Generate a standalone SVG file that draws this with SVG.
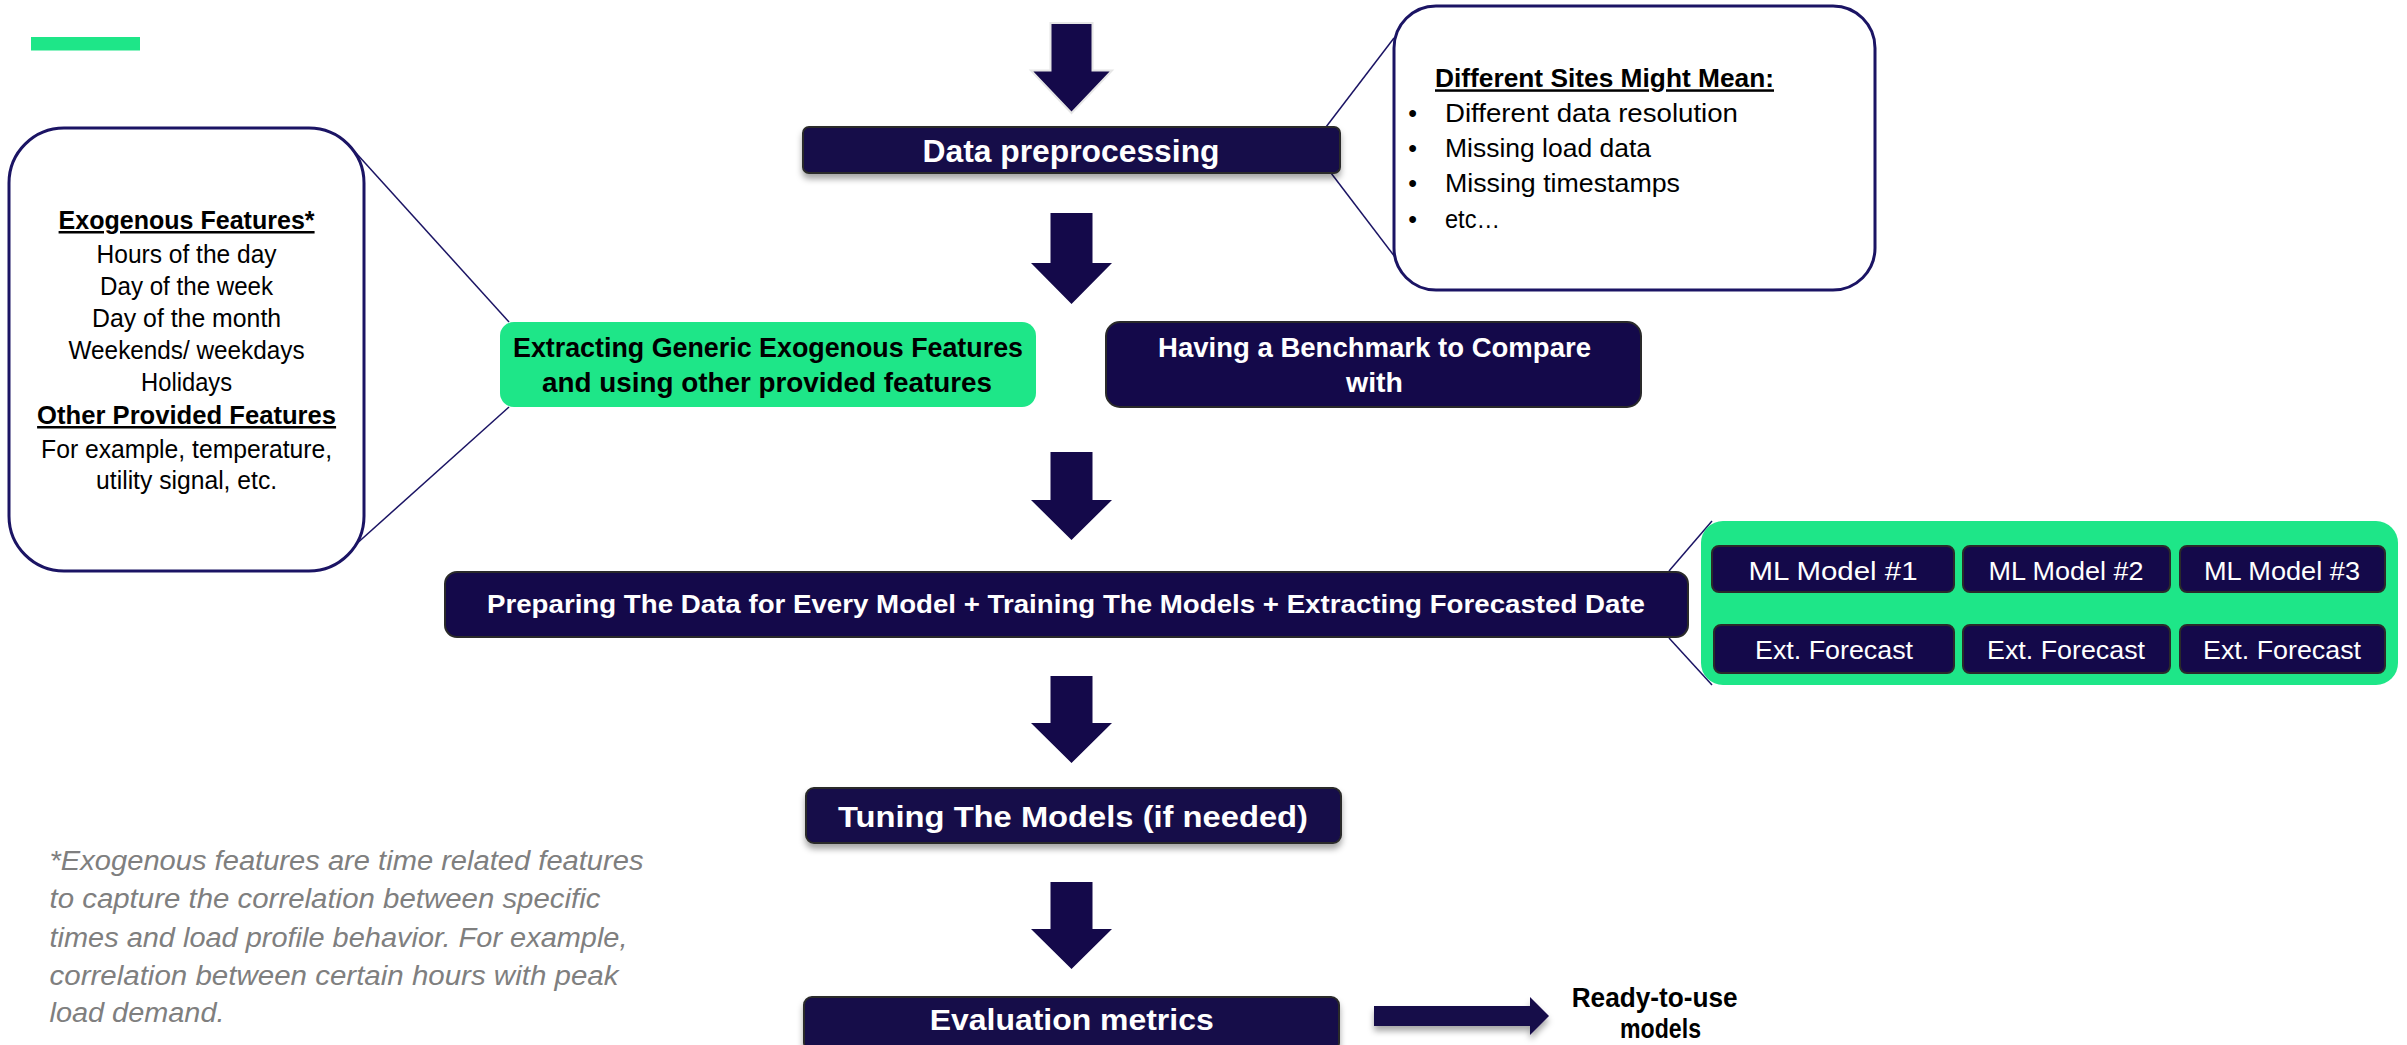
<svg xmlns="http://www.w3.org/2000/svg" width="2407" height="1045" viewBox="0 0 2407 1045">
<defs>
<filter id="sh" x="-10%" y="-30%" width="120%" height="180%">
<feDropShadow dx="0" dy="5" stdDeviation="3" flood-color="#000" flood-opacity="0.35"/>
</filter>
<marker id="tri" viewBox="0 0 14 15" refX="7" refY="15" markerWidth="14" markerHeight="15" markerUnits="userSpaceOnUse" orient="auto-start-reverse">
<path d="M0,0 L14,0 L7,15 Z" fill="#14094a"/>
</marker>
</defs>
<style>
text{font-family:"Liberation Sans",Arial,sans-serif}
.nv{fill:#14094a;stroke:#2a2a2a;stroke-width:2}
.gr{fill:#1ee688}
.ob{fill:#fff;stroke:#1b1464;stroke-width:3}
.wb{fill:#fff;font-weight:bold;text-anchor:middle}
.wr{fill:#fff;text-anchor:middle;font-size:25px}
.kb{fill:#000;font-weight:bold;text-anchor:middle}
.kr{fill:#000;font-size:25px}
.ul{text-decoration:underline}
.ft{fill:#7f7f7f;font-style:italic;font-size:27px}
.bk{fill:#14094a}
.cl{stroke:#1b1464;stroke-width:1.5;fill:none}
.sl{stroke:#14094a;stroke-width:2;fill:none}
</style>

<rect id="accent-bar" x="31" y="37" width="109" height="13.5" class="gr"/>

<g id="connectors">
<polygon points="1050.5,23 1092.5,23 1092.5,70.5 1112,70.5 1071.5,113 1031,70.5 1050.5,70.5" class="bk" stroke="#e6e6e6" stroke-width="2"/>
<polygon points="1050.5,213 1092.5,213 1092.5,263 1112,263 1071.5,304 1031,263 1050.5,263" class="bk"/>
<polygon points="1050.5,452 1092.5,452 1092.5,500 1112,500 1071.5,540 1031,500 1050.5,500" class="bk"/>
<polygon points="1050.5,676 1092.5,676 1092.5,723 1112,723 1071.5,763 1031,723 1050.5,723" class="bk"/>
<polygon points="1050.5,882 1092.5,882 1092.5,929 1112,929 1071.5,969 1031,929 1050.5,929" class="bk"/>
<polygon points="1374,1006 1530,1006 1530,997 1549,1016 1530,1035 1530,1026 1374,1026" class="bk" filter="url(#sh)"/>
<line x1="356" y1="153" x2="509" y2="322" class="cl"/>
<line x1="509" y1="407" x2="334" y2="564" class="cl"/>
<line x1="1326" y1="127" x2="1394" y2="38" class="cl"/>
<line x1="1331" y1="173" x2="1395" y2="257" class="cl"/>
<line x1="1669" y1="571" x2="1712" y2="521" class="cl"/>
<line x1="1669" y1="638" x2="1712" y2="685" class="cl"/>
<line x1="1833" y1="592" x2="1833" y2="625" class="sl" marker-end="url(#tri)"/>
<line x1="2066.5" y1="592" x2="2066.5" y2="625" class="sl" marker-end="url(#tri)"/>
<line x1="2282.5" y1="592" x2="2282.5" y2="625" class="sl" marker-end="url(#tri)"/>
</g>

<g id="exogenous-box">
<rect x="9" y="128" width="355" height="443" rx="55" ry="55" class="ob"/>
<text x="186.6" y="229" class="kb ul" font-size="25" textLength="256" lengthAdjust="spacingAndGlyphs">Exogenous Features*</text>
<text x="186.6" y="262.7" class="kr" text-anchor="middle" textLength="180" lengthAdjust="spacingAndGlyphs">Hours of the day</text>
<text x="186.6" y="294.9" class="kr" text-anchor="middle" textLength="173" lengthAdjust="spacingAndGlyphs">Day of the week</text>
<text x="186.6" y="327" class="kr" text-anchor="middle" textLength="189" lengthAdjust="spacingAndGlyphs">Day of the month</text>
<text x="186.6" y="358.9" class="kr" text-anchor="middle" textLength="236" lengthAdjust="spacingAndGlyphs">Weekends/ weekdays</text>
<text x="186.6" y="391" class="kr" text-anchor="middle" textLength="91" lengthAdjust="spacingAndGlyphs">Holidays</text>
<text x="186.6" y="424" class="kb ul" font-size="25" textLength="299" lengthAdjust="spacingAndGlyphs">Other Provided Features</text>
<text x="186.6" y="457.6" class="kr" text-anchor="middle" textLength="291" lengthAdjust="spacingAndGlyphs">For example, temperature,</text>
<text x="186.6" y="489" class="kr" text-anchor="middle" textLength="181" lengthAdjust="spacingAndGlyphs">utility signal, etc.</text>
</g>

<g id="sites-box">
<rect x="1394" y="6" width="481" height="284" rx="42" ry="42" class="ob"/>
<text x="1435" y="87.3" class="ul" font-size="25" font-weight="bold" fill="#000" textLength="339" lengthAdjust="spacingAndGlyphs">Different Sites Might Mean:</text>
<text x="1412.7" y="121.7" class="kr" text-anchor="middle">•</text>
<text x="1412.7" y="156.7" class="kr" text-anchor="middle">•</text>
<text x="1412.7" y="191.7" class="kr" text-anchor="middle">•</text>
<text x="1412.7" y="227.7" class="kr" text-anchor="middle">•</text>
<text x="1445" y="121.7" class="kr" font-size="26" textLength="293" lengthAdjust="spacingAndGlyphs">Different data resolution</text>
<text x="1445" y="156.7" class="kr" font-size="26" textLength="206" lengthAdjust="spacingAndGlyphs">Missing load data</text>
<text x="1445" y="191.7" class="kr" font-size="26" textLength="235" lengthAdjust="spacingAndGlyphs">Missing timestamps</text>
<text x="1445" y="227.7" class="kr" font-size="26" textLength="55" lengthAdjust="spacingAndGlyphs">etc…</text>
</g>

<g id="data-preprocessing">
<rect x="803" y="127" width="537" height="46" rx="6" class="nv" filter="url(#sh)"/>
<text x="1071" y="162" class="wb" font-size="31" textLength="297" lengthAdjust="spacingAndGlyphs">Data preprocessing</text>
</g>

<g id="extracting-features">
<rect x="500" y="322" width="536" height="85" rx="14" class="gr"/>
<text x="768" y="357" class="kb" font-size="27" textLength="510" lengthAdjust="spacingAndGlyphs">Extracting Generic Exogenous Features</text>
<text x="767" y="392" class="kb" font-size="27" textLength="450" lengthAdjust="spacingAndGlyphs">and using other provided features</text>
</g>

<g id="benchmark">
<rect x="1106" y="322" width="535" height="85" rx="14" class="nv"/>
<text x="1374.5" y="357" class="wb" font-size="27" textLength="433" lengthAdjust="spacingAndGlyphs">Having a Benchmark to Compare</text>
<text x="1374.5" y="392" class="wb" font-size="27" textLength="57" lengthAdjust="spacingAndGlyphs">with</text>
</g>

<g id="preparing">
<rect x="445" y="572" width="1243" height="65" rx="12" class="nv"/>
<text x="1066" y="613" class="wb" font-size="26" textLength="1158" lengthAdjust="spacingAndGlyphs">Preparing The Data for Every Model + Training The Models + Extracting Forecasted Date</text>
</g>

<g id="models-panel">
<rect x="1701" y="521" width="697" height="164" rx="22" class="gr"/>
</g>
<g id="ml-model-1">
<rect x="1712" y="546" width="242" height="46" rx="7" class="nv"/>
<text x="1833" y="580" class="wr" textLength="169" lengthAdjust="spacingAndGlyphs">ML Model #1</text>
</g>
<g id="ml-model-2">
<rect x="1963" y="546" width="207" height="46" rx="7" class="nv"/>
<text x="2066" y="580" class="wr" textLength="155" lengthAdjust="spacingAndGlyphs">ML Model #2</text>
</g>
<g id="ml-model-3">
<rect x="2180" y="546" width="205" height="46" rx="7" class="nv"/>
<text x="2282" y="580" class="wr" textLength="156" lengthAdjust="spacingAndGlyphs">ML Model #3</text>
</g>
<g id="forecast-1">
<rect x="1714" y="625" width="240" height="48" rx="7" class="nv"/>
<text x="1834" y="659" class="wr" textLength="158" lengthAdjust="spacingAndGlyphs">Ext. Forecast</text>
</g>
<g id="forecast-2">
<rect x="1963" y="625" width="207" height="48" rx="7" class="nv"/>
<text x="2066" y="659" class="wr" textLength="158" lengthAdjust="spacingAndGlyphs">Ext. Forecast</text>
</g>
<g id="forecast-3">
<rect x="2180" y="625" width="205" height="48" rx="7" class="nv"/>
<text x="2282" y="659" class="wr" textLength="158" lengthAdjust="spacingAndGlyphs">Ext. Forecast</text>
</g>

<g id="tuning">
<rect x="806" y="788" width="535" height="55" rx="8" class="nv" filter="url(#sh)"/>
<text x="1073" y="827" class="wb" font-size="30" textLength="470" lengthAdjust="spacingAndGlyphs">Tuning The Models (if needed)</text>
</g>

<g id="evaluation">
<rect x="804" y="997" width="535" height="54" rx="8" class="nv" filter="url(#sh)"/>
<text x="1071.7" y="1030" class="wb" font-size="30" textLength="284" lengthAdjust="spacingAndGlyphs">Evaluation metrics</text>
</g>

<g id="ready-to-use">
<text x="1654.7" y="1007" class="kb" font-size="27" textLength="166" lengthAdjust="spacingAndGlyphs">Ready-to-use</text>
<text x="1660.5" y="1038" class="kb" font-size="27" textLength="81" lengthAdjust="spacingAndGlyphs">models</text>
</g>

<g id="footnote">
<text x="49.5" y="870" class="ft" textLength="594" lengthAdjust="spacingAndGlyphs">*Exogenous features are time related features</text>
<text x="49.5" y="908.3" class="ft" textLength="551" lengthAdjust="spacingAndGlyphs">to capture the correlation between specific</text>
<text x="49.5" y="946.5" class="ft" textLength="578" lengthAdjust="spacingAndGlyphs">times and load profile behavior. For example,</text>
<text x="49.5" y="984.5" class="ft" textLength="569" lengthAdjust="spacingAndGlyphs">correlation between certain hours with peak</text>
<text x="49.5" y="1021.7" class="ft" textLength="175" lengthAdjust="spacingAndGlyphs">load demand.</text>
</g>
</svg>
